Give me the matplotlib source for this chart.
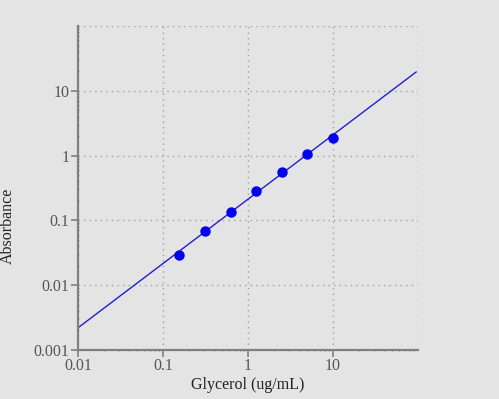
import matplotlib
matplotlib.use("Agg")
import matplotlib.pyplot as plt
from matplotlib.ticker import LogLocator, FixedLocator, FixedFormatter, NullFormatter
import numpy as np

# standard points
glycerol = [0.156, 0.3125, 0.625, 1.25, 2.5, 5, 10]
absorbance = [0.0297, 0.0695, 0.137, 0.282, 0.553, 1.047, 1.87]

# fitted line, end points
fit_x = [0.01, 95]
fit_y = [0.0022, 19.5]

xticks = [0.01, 0.1, 1, 10]
xlabels = ["0.01", "0.1", "1", "10"]
yticks = [0.001, 0.01, 0.1, 1, 10]
ylabels = ["0.001", "0.01", "0.1", "1", "10"]

bg = "#e4e4e4"
grey = "#808080"

plt.rcParams["font.family"] = ["Liberation Serif", "DejaVu Serif"]

fig = plt.figure(figsize=(4.99, 3.99), dpi=100, facecolor=bg)
ax = fig.add_axes([78/499, (399-350)/399, (418-78)/499, (350-26)/399])
ax.set_facecolor(bg)

ax.plot(fit_x, fit_y, color="#1f1fd0", lw=1, zorder=2)
ax.plot(glycerol, absorbance, "o", color="#0000ee", ms=6.5, zorder=3)

ax.set_xscale("log")
ax.set_yscale("log")
ax.set_xlim(0.01, 100)
ax.set_ylim(0.001, 100)

# dotted grid at every decade incl. the top/right edges
for v in [0.1, 1, 10, 100]:
    ax.axvline(v, color="#a0a0a0", lw=1, ls=(0, (1, 3)), zorder=1)
for v in [0.01, 0.1, 1, 10, 100]:
    ax.axhline(v, color="#a0a0a0", lw=1, ls=(0, (1, 3)), zorder=1)

ax.xaxis.set_major_locator(FixedLocator(xticks))
ax.xaxis.set_major_formatter(FixedFormatter(xlabels))
ax.yaxis.set_major_locator(FixedLocator(yticks))
ax.yaxis.set_major_formatter(FixedFormatter(ylabels))
ax.xaxis.set_minor_locator(LogLocator(base=10, subs=np.arange(2, 10)))
ax.yaxis.set_minor_locator(LogLocator(base=10, subs=np.arange(2, 10)))
ax.xaxis.set_minor_formatter(NullFormatter())
ax.yaxis.set_minor_formatter(NullFormatter())

for s in ["top", "right"]:
    ax.spines[s].set_visible(False)
for s in ["left", "bottom"]:
    ax.spines[s].set_color(grey)
    ax.spines[s].set_linewidth(1.6)

ax.tick_params(which="major", length=5, width=1.2, color=grey,
               labelsize=11.5, labelcolor="#555555", pad=1)
ax.tick_params(which="minor", length=2, width=0.8, color=grey, direction="inout")

ax.set_xlabel("Glycerol (ug/mL)", fontsize=11.5, color="#222222")
ax.set_ylabel("Absorbance", fontsize=11.5, color="#222222")
ax.xaxis.set_label_coords(0.5, -(377 - 350) / 324)
ax.yaxis.set_label_coords((16 - 78) / 340, (350 - 226) / 324)

fig.savefig("out.png", dpi=100, facecolor=bg)
